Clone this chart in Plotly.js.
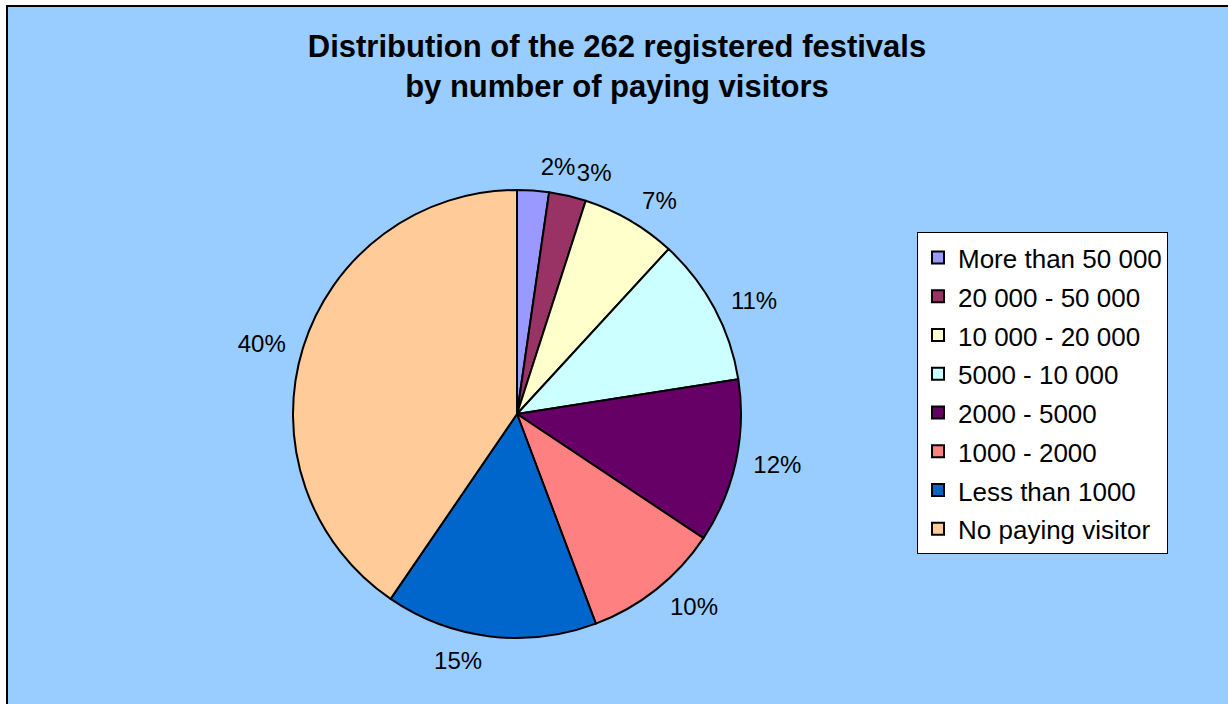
<!DOCTYPE html>
<html>
<head>
<meta charset="utf-8">
<script src="https://cdn.plot.ly/plotly-3.0.1.min.js"></script>
<style>
  html, body { margin: 0; padding: 0; background: #ffffff; }
  #chart { width: 1228px; height: 704px; }
</style>
</head>
<body>
<div id="chart"></div>
<script>
// Categories (legend labels), in drawing order (clockwise from 12 o'clock)
const categories = [
  "More than 50 000",
  "20 000 - 50 000",
  "10 000 - 20 000",
  "5000 - 10 000",
  "2000 - 5000",
  "1000 - 2000",
  "Less than 1000",
  "No paying visitor"
];
// Number of festivals per category (262 in total)
const festivals = [6, 7, 18, 28, 31, 26, 40, 106];
// Slice colours
const sliceColors = ["#9999FF", "#993366", "#FFFFCC", "#CCFFFF", "#660066", "#FF8080", "#0066CC", "#FFCC99"];

const W = 1228, H = 704;
const cx = 517, cy = 414, r = 224;   // visible pie
const rText = 235;                    // invisible pies that carry the percentage labels

const legendLabels = categories.map(c => '<span style="font-size:26px">' + c + '</span>');
const labelFont = { family: 'Liberation Sans, Arial, sans-serif', size: 24, color: '#000000' };
const pct = '%{percent:.0%}';

function dom(rad) {
  return {
    x: [(cx - rad) / W, (cx + rad) / W],
    y: [(H - cy - rad) / H, (H - cy + rad) / H]
  };
}

const pieTrace = {
  type: 'pie',
  labels: legendLabels,
  values: festivals,
  sort: false,
  direction: 'clockwise',
  rotation: 0,
  marker: { colors: sliceColors, line: { color: '#000000', width: 2 } },
  textinfo: 'none',
  hoverinfo: 'none',
  domain: dom(r)
};

// label carriers: one for the first (smallest, top) slice, one for the rest,
// so the neighbouring top labels are not pushed apart with leader lines
function textTrace(showIdx) {
  return {
    type: 'pie',
    labels: legendLabels,
    values: festivals,
    sort: false,
    direction: 'clockwise',
    rotation: 0,
    showlegend: false,
    marker: { colors: festivals.map(() => 'rgba(0,0,0,0)'), line: { width: 0 } },
    textposition: 'outside',
    texttemplate: festivals.map((v, i) => showIdx(i) ? pct : ''),
    outsidetextfont: labelFont,
    hoverinfo: 'none',
    domain: dom(rText)
  };
}

const layout = {
  width: W,
  height: H,
  margin: { l: 0, r: 0, t: 0, b: 0 },
  paper_bgcolor: '#99CCFF',
  plot_bgcolor: '#99CCFF',
  font: { family: 'Liberation Sans, Arial, sans-serif', color: '#000000' },
  title: {
    text: '<b>Distribution of the 262 registered festivals<br>by number of paying visitors</b>',
    font: { family: 'Liberation Sans, Arial, sans-serif', size: 31, color: '#000000' },
    x: 617 / W,
    xanchor: 'center',
    xref: 'paper',
    y: 1 - 57 / H,
    yref: 'container',
    yanchor: 'top'
  },
  showlegend: true,
  legend: {
    x: 917 / W,
    xanchor: 'left',
    y: 1 - 232 / H,
    yanchor: 'top',
    bgcolor: '#FFFFFF',
    bordercolor: '#000000',
    borderwidth: 1,
    font: { family: 'Liberation Sans, Arial, sans-serif', size: 27.5, color: '#000000' },
    traceorder: 'normal'
  },
  shapes: [
    { type: 'rect', xref: 'paper', yref: 'paper', x0: 0, x1: 6 / W, y0: 0, y1: 1, fillcolor: '#FFFFFF', line: { width: 0 }, layer: 'above' },
    { type: 'rect', xref: 'paper', yref: 'paper', x0: 0, x1: 1, y0: 1 - 5 / H, y1: 1, fillcolor: '#FFFFFF', line: { width: 0 }, layer: 'above' },
    { type: 'line', xref: 'paper', yref: 'paper', x0: 7 / W, x1: 7 / W, y0: 0, y1: 1 - 5 / H, line: { color: '#000000', width: 2 }, layer: 'above' },
    { type: 'line', xref: 'paper', yref: 'paper', x0: 6 / W, x1: 1, y0: 1 - 6 / H, y1: 1 - 6 / H, line: { color: '#000000', width: 2 }, layer: 'above' }
  ]
};

Plotly.newPlot('chart', [pieTrace, textTrace(i => i !== 0), textTrace(i => i === 0)], layout,
  { displayModeBar: false, staticPlot: true });
</script>
</body>
</html>
